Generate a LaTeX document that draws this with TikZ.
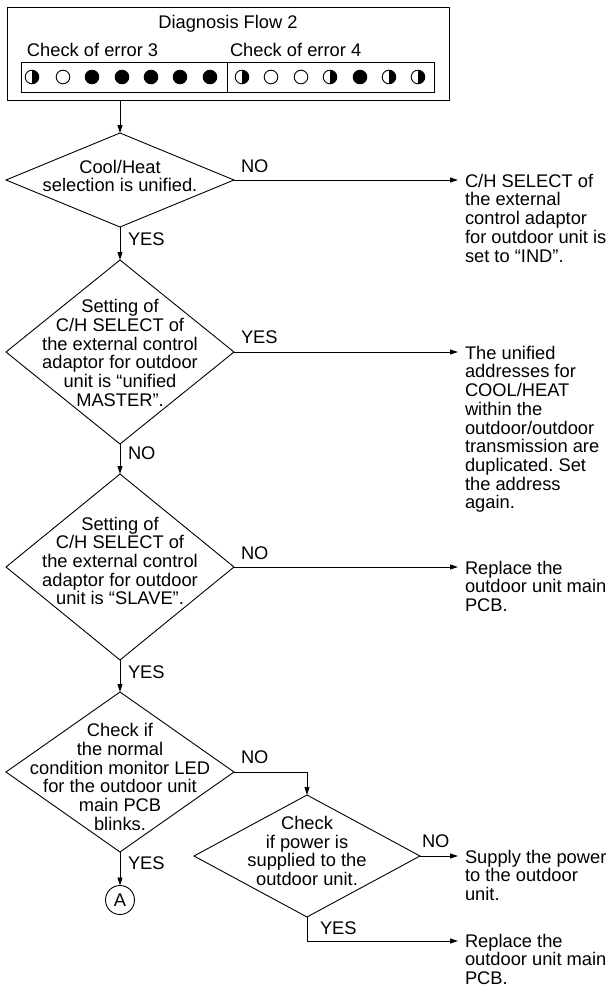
\documentclass[tikz,border=0pt]{standalone}
\usepackage{fontspec}
\setmainfont{Liberation Sans}
\usetikzlibrary{shapes.geometric,arrows.meta}
\frenchspacing
\begin{document}
\begin{tikzpicture}[x=1pt,y=-1pt,line width=0.9pt,
  txt/.style={font=\fontsize{18.3}{18.7}\selectfont, inner sep=0pt, outer sep=0pt},
  dtext/.style={txt, align=center},
  rtext/.style={txt, align=left, anchor=north west},
  lab/.style={txt, anchor=west},
  dia/.style={diamond, draw, minimum width=228pt, inner sep=0pt, outer sep=0pt},
  arr/.style={-{Triangle[length=8pt,width=5pt]}},
  frame/.style={draw, inner sep=0pt, outer sep=0pt, anchor=north west}]
\useasboundingbox (0,0) rectangle (612,991);
% header
\node[frame, minimum width=442pt, minimum height=93pt] (hdr) at (7,7) {};
\node[txt] (title) at (228,24) {Diagnosis Flow 2};
\node[lab] (e3) at (27,50) {Check of error 3};
\node[lab] (e4) at (230,50) {Check of error 4};
\node[frame, minimum width=413pt, minimum height=30pt] (leds) at (21,62) {};
\draw (227,62) -- (227,92);
\foreach \x in {63,271,301} \draw (\x,77) circle (6.8pt);
\foreach \x in {92,122,151,180,210,360} \filldraw (\x,77) circle (6.8pt);
\foreach \x in {32,242,330,389,418} {
  \fill (\x,70.2) arc[start angle=90,end angle=-90,radius=6.8pt] -- cycle;
  \draw (\x,77) circle (6.8pt);
}
% decision 1
\node[dia, minimum height=94pt] (d1) at (120,180) {};
\node[dtext] (t1) at (120,176) {Cool/Heat\\selection is unified.};
\node[lab] (n1) at (241,166) {NO};
\node[rtext] (r1) at (465,174) {C/H SELECT of\\the external\\control adaptor\\for outdoor unit is\\set to “IND”.};
\coordinate (e1) at (458,180);
\draw[arr] (hdr.south -| d1.north) -- (d1.north);
\draw[arr] (d1.east) -- (e1);
\node[lab] (y1) at (128,239) {YES};
% decision 2
\node[dia, minimum height=184pt] (d2) at (120,352) {};
\node[dtext] (t2) at (120,353) {Setting of\\C/H SELECT of\\the external control\\adaptor for outdoor\\unit is “unified\\MASTER”.};
\draw[arr] (d1.south) -- (d2.north);
\node[lab] (y2) at (241,337) {YES};
\node[rtext] (r2) at (465,346) {The unified\\addresses for\\COOL/HEAT\\within the\\outdoor/outdoor\\transmission are\\duplicated. Set\\the address\\again.};
\coordinate (e2) at (458,352);
\draw[arr] (d2.east) -- (e2);
\node[lab] (n2) at (128,453) {NO};
% decision 3
\node[dia, minimum height=186pt] (d3) at (120,567) {};
\node[dtext] (t3) at (120,561) {Setting of\\C/H SELECT of\\the external control\\adaptor for outdoor\\unit is “SLAVE”.};
\draw[arr] (d2.south) -- (d3.north);
\node[lab] (n3) at (241,553) {NO};
\node[rtext] (r3) at (465,561) {Replace the\\outdoor unit main\\PCB.};
\coordinate (e3a) at (458,567);
\draw[arr] (d3.east) -- (e3a);
\node[lab] (y3) at (128,672) {YES};
% decision 4
\node[dia, minimum height=160pt] (d4) at (120,772) {};
\node[dtext] (t4) at (120,777) {Check if\\the normal\\condition monitor LED\\for the outdoor unit\\main PCB\\blinks.};
\draw[arr] (d3.south) -- (d4.north);
\node[lab] (n4) at (241,757) {NO};
\node[lab] (y4) at (128,863) {YES};
\node[draw, circle, minimum size=29pt, inner sep=0pt, outer sep=0pt, font=\fontsize{18.3}{18.7}\selectfont] (A) at (120,900) {A};
\draw[arr] (d4.south) -- (A.north);
% decision 5
\node[dia, minimum width=226pt, minimum height=122pt] (d5) at (307,856) {};
\node[dtext] (t5) at (307,851) {Check\\if power is\\supplied to the\\outdoor unit.};
\draw[arr] (d4.east) -| (d5.north);
\node[lab] (n5) at (422,841) {NO};
\node[rtext] (r4) at (465,850) {Supply the power\\to the outdoor\\unit.};
\coordinate (e4a) at (458,856);
\draw[arr] (d5.east) -- (e4a);
\node[lab] (y5) at (320,928) {YES};
\node[rtext] (r5) at (465,934) {Replace the\\outdoor unit main\\PCB.};
\coordinate (e5) at (458,941);
\draw[arr] (d5.south) |- (e5);
\end{tikzpicture}
\end{document}
